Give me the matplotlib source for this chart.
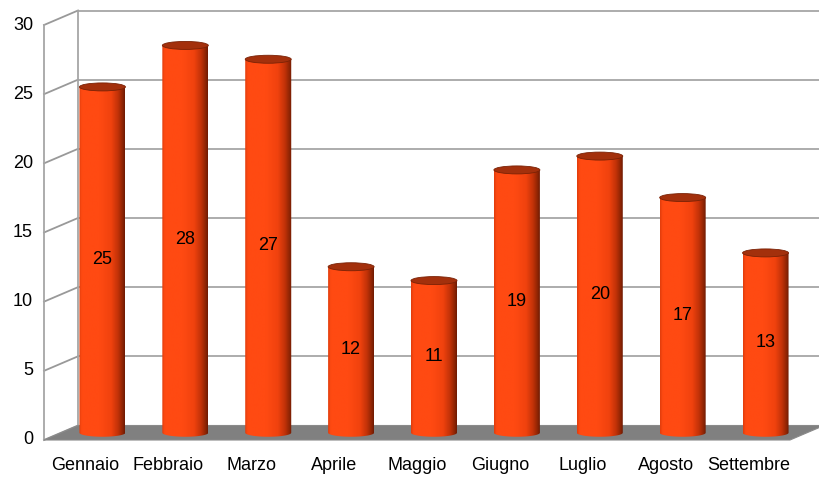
import numpy as np
import matplotlib.pyplot as plt
from matplotlib.colors import LinearSegmentedColormap
from matplotlib.patches import Polygon, Ellipse

plt.rcParams['font.family'] = ['Liberation Sans', 'DejaVu Sans']

mesi = ["Gennaio", "Febbraio", "Marzo", "Aprile", "Maggio",
        "Giugno", "Luglio", "Agosto", "Settembre"]
valori = [25, 28, 27, 12, 11, 19, 20, 17, 13]
y_ticks = [0, 5, 10, 15, 20, 25, 30]

W, H = 820, 479
fig = plt.figure(figsize=(W / 100, H / 100), dpi=100)
ax = fig.add_axes([0, 0, 1, 1])
ax.set_axis_off()

# pixel geometry of the front plane
x0_px, x1_px = 44, 790
y0_px, y30_px = 440, 25
ppc = (x1_px - x0_px) / len(mesi)
ppu = (y0_px - y30_px) / 30.0

# depth offsets (back wall and bar plane)
dxb, dyb = 34 / ppc, 14.5 / ppu
dxm, dym = dxb / 2, dyb / 2

grid_c = '#a6a6a6'
left = -0.5
right = len(mesi) - 0.5
fs = 13

# back wall grid + left wall diagonals
for t in y_ticks:
    ax.plot([left + dxb, right + 1.0], [t + dyb, t + dyb], color=grid_c, lw=1.3, zorder=1)
    ax.plot([left, left + dxb], [t, t + dyb], color='#999999', lw=1.3, zorder=1)
    ax.text(left - 11 / ppc, t, str(t), ha='right', va='center', fontsize=fs, color='black')
ax.plot([left, left], [0, 30], color=grid_c, lw=1.3, zorder=1)
ax.plot([left + dxb, left + dxb], [dyb, 30 + dyb], color=grid_c, lw=1.3, zorder=1)

# floor
floor = Polygon([[left, 0], [right, 0], [right + dxb, dyb], [left + dxb, dyb]],
                closed=True, facecolor='#808080', edgecolor='#8a8a8a', lw=0.8, zorder=2)
ax.add_patch(floor)

# cylinders
cmap = LinearSegmentedColormap.from_list('cyl', [
    (0.0, '#e03c0c'), (0.06, '#ff4a12'), (0.45, '#ff4a12'),
    (0.7, '#f0420e'), (0.85, '#c23208'), (0.95, '#8e2404'), (1.0, '#6e1a02')])
grad = np.linspace(0, 1, 256).reshape(1, -1)

bw = 46 / ppc
eh = 8 / ppu
th = np.linspace(np.pi, 2 * np.pi, 60)

for i, (m, v) in enumerate(zip(mesi, valori)):
    cx, by = i + dxm, dym
    ty = v + dym
    arc_x = cx + bw / 2 * np.cos(th)
    arc_y = by + eh / 2 * np.sin(th)
    pts = np.vstack([
        np.column_stack([arc_x, arc_y]),
        [[cx + bw / 2, ty], [cx - bw / 2, ty]],
    ])
    body = Polygon(pts, closed=True, facecolor='none', edgecolor='none', zorder=3)
    ax.add_patch(body)
    im = ax.imshow(grad, cmap=cmap, aspect='auto', zorder=3,
                   extent=[cx - bw / 2, cx + bw / 2, by - eh, ty], interpolation='bilinear')
    im.set_clip_path(body)
    top = Ellipse((cx, ty), bw, eh, facecolor='#a3300c', edgecolor='#7a2206', lw=0.6, zorder=4)
    ax.add_patch(top)
    ax.text(cx, v / 2 + dym, str(v), ha='center', va='center', fontsize=fs, color='black', zorder=5)
    ax.text(i, -26 / ppu, m, ha='center', va='center', fontsize=fs, color='black')

ax.set_xlim(-0.5 - x0_px / ppc, -0.5 + (W - x0_px) / ppc)
ax.set_ylim(-(H - y0_px) / ppu, y0_px / ppu)

fig.savefig('out.png', dpi=100)
